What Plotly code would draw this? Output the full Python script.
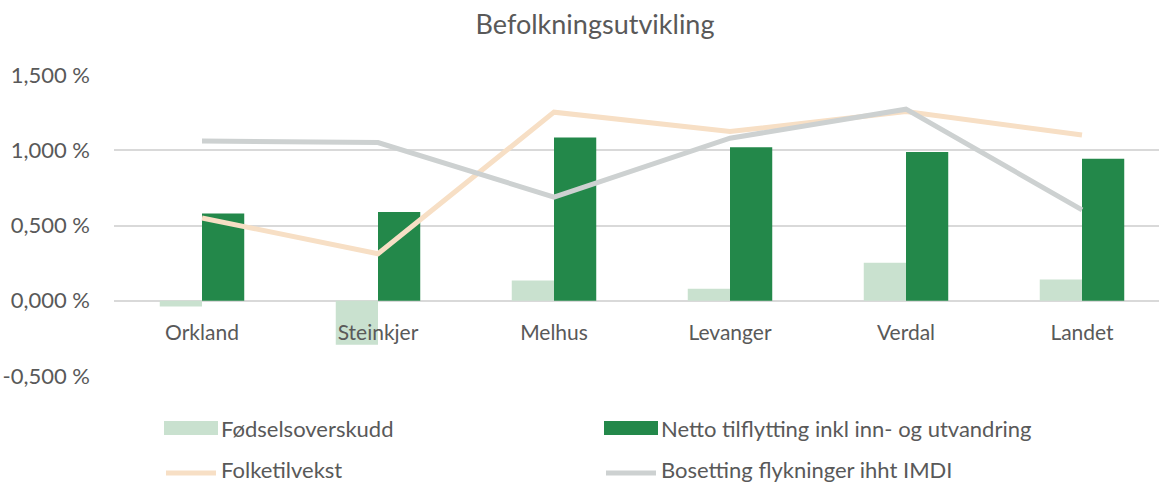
import plotly.graph_objects as go

categories = ["Orkland", "Steinkjer", "Melhus", "Levanger", "Verdal", "Landet"]
fodselsoverskudd = [-0.038, -0.292, 0.135, 0.080, 0.252, 0.141]
netto_tilflytting = [0.580, 0.590, 1.085, 1.020, 0.989, 0.943]
folketilvekst = [0.550, 0.312, 1.253, 1.124, 1.257, 1.102]
bosetting = [1.062, 1.051, 0.689, 1.080, 1.273, 0.604]

y_tickvals = [-0.5, 0.0, 0.5, 1.0, 1.5]
y_ticktext = ["-0,500 %", "0,000 %", "0,500 %", "1,000 %", "1,500 %"]

series_names = ["Fødselsoverskudd", "Netto tilflytting inkl inn- og utvandring",
                "Folketilvekst", "Bosetting flykninger ihht IMDI"]

C_LIGHT = "#C9E1CF"
C_DARK = "#23884A"
C_PEACH = "#F7DFC5"
C_GREY = "#CDD1D1"
TXT = "#595959"
FONT = "Lato"

W, H = 1159, 483
L, R, T, B = 114, 0, 75, 107
pw = W - L - R
ph = H - T - B

fig = go.Figure()
fig.add_trace(go.Bar(x=categories, y=fodselsoverskudd, name=series_names[0],
                     marker=dict(color=C_LIGHT, line=dict(width=0))))
fig.add_trace(go.Bar(x=categories, y=netto_tilflytting, name=series_names[1],
                     marker=dict(color=C_DARK, line=dict(width=0))))
fig.add_trace(go.Scatter(x=categories, y=folketilvekst, name=series_names[2], mode="lines",
                         line=dict(color=C_PEACH, width=5)))
fig.add_trace(go.Scatter(x=categories, y=bosetting, name=series_names[3], mode="lines",
                         line=dict(color=C_GREY, width=5)))

def px_x(p):
    return (p - L) / pw

def px_y(p):
    return (H - B - p) / ph

shapes = []
annotations = []
legend_items = [
    (164, 428, "rect", C_LIGHT, series_names[0]),
    (604, 428, "rect", C_DARK, series_names[1]),
    (164, 469, "line", C_PEACH, series_names[2]),
    (604, 469, "line", C_GREY, series_names[3]),
]
for x0, yc, kind, col, name in legend_items:
    if kind == "rect":
        shapes.append(dict(type="rect", xref="paper", yref="paper",
                           x0=px_x(x0), x1=px_x(x0 + 54), y0=px_y(yc + 7), y1=px_y(yc - 7),
                           fillcolor=col, line=dict(width=0), layer="above"))
    else:
        shapes.append(dict(type="line", xref="paper", yref="paper",
                           x0=px_x(x0 + 2), x1=px_x(x0 + 52), y0=px_y(yc + 4), y1=px_y(yc + 4),
                           line=dict(color=col, width=5)))
    annotations.append(dict(xref="paper", yref="paper", x=px_x(x0 + 55), y=px_y(yc),
                            text=name, showarrow=False, xanchor="left", yanchor="middle",
                            font=dict(family=FONT, size=22, color=TXT)))

fig.update_layout(
    width=W, height=H,
    margin=dict(l=L, r=R, t=T, b=B, autoexpand=False),
    paper_bgcolor="white", plot_bgcolor="white",
    barmode="group", bargap=0.52, bargroupgap=0,
    showlegend=False,
    title=dict(text="Befolkningsutvikling", x=595 / W, xanchor="center",
               y=1 - 25 / H, yanchor="middle",
               font=dict(family=FONT, size=27, color=TXT)),
    font=dict(family=FONT, color=TXT),
    xaxis=dict(type="category", range=[-0.5, 5.4375], anchor="free",
               position=px_y(301), showgrid=False, showline=False, zeroline=False,
               automargin=False,
               ticks="", tickfont=dict(family=FONT, size=21, color=TXT),
               ticklabelstandoff=17),
    yaxis=dict(range=[-0.5, 1.5], tickvals=y_tickvals, ticktext=y_ticktext,
               automargin=False,
               showgrid=True, gridcolor="#D9D9D9", gridwidth=1.5,
               zeroline=True, zerolinecolor="#D9D9D9", zerolinewidth=2,
               showline=False, ticks="", ticklabelstandoff=23,
               tickfont=dict(family=FONT, size=22, color=TXT)),
    shapes=shapes, annotations=annotations,
)

fig.write_html("out.html", config={"displayModeBar": False},
               post_script="document.body.style.margin='0';document.body.style.overflow='hidden';")
